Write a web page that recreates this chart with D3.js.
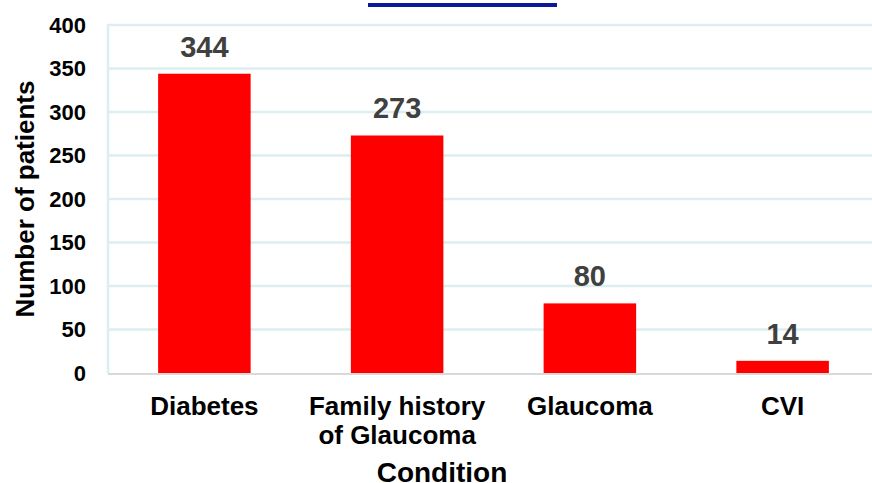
<!DOCTYPE html>
<html lang="en">
<head>
  <meta charset="UTF-8">
  <title>Condition</title>
  <script src="https://d3js.org/d3.v7.min.js"></script>
  <style>
    body { margin: 0; background: #fff; }
    text { font-family: "Liberation Sans", Arial, sans-serif; font-weight: bold; }
  </style>
</head>
<body>
<script>
  // Data
  const categories = [["Diabetes"], ["Family history", "of Glaucoma"], ["Glaucoma"], ["CVI"]];
  const patients = [344, 273, 80, 14];
  const yTicks = [0, 50, 100, 150, 200, 250, 300, 350, 400];

  const W = 872, H = 483;
  const plot = { left: 108, right: 879, top: 25, bottom: 373 };

  const svg = d3.select("body").append("svg")
      .attr("width", W)
      .attr("height", H);

  const x = d3.scaleBand()
      .domain(d3.range(categories.length))
      .range([plot.left, plot.right])
      .paddingInner(0.52)
      .paddingOuter(0.26);

  const y = d3.scaleLinear()
      .domain([0, 400])
      .range([plot.bottom, plot.top]);

  // gridlines
  svg.append("g").selectAll("line")
    .data(yTicks.filter(d => d > 0))
    .join("line")
      .attr("x1", plot.left).attr("x2", W)
      .attr("y1", d => y(d)).attr("y2", d => y(d))
      .attr("stroke", "#ddeef0")
      .attr("stroke-width", 2.5);

  svg.append("line")
      .attr("x1", plot.left).attr("x2", plot.left)
      .attr("y1", plot.top - 1).attr("y2", plot.bottom)
      .attr("stroke", "#ddeef0")
      .attr("stroke-width", 2.5);

  // y tick labels
  svg.append("g").selectAll("text")
    .data(yTicks)
    .join("text")
      .attr("x", 86)
      .attr("y", d => y(d))
      .attr("dy", "0.36em")
      .attr("text-anchor", "end")
      .attr("font-size", 22)
      .attr("fill", "#000")
      .text(d => d);

  // bars
  svg.append("g").selectAll("rect")
    .data(patients)
    .join("rect")
      .attr("x", (d, i) => x(i))
      .attr("width", x.bandwidth())
      .attr("y", d => y(d))
      .attr("height", d => y(0) - y(d))
      .attr("fill", "#ff0000");

  // baseline
  svg.append("line")
      .attr("x1", plot.left).attr("x2", W)
      .attr("y1", plot.bottom + 1).attr("y2", plot.bottom + 1)
      .attr("stroke", "#d9d9d9")
      .attr("stroke-width", 2);

  // value labels
  svg.append("g").selectAll("text")
    .data(patients)
    .join("text")
      .attr("x", (d, i) => x(i) + x.bandwidth() / 2)
      .attr("y", d => y(d) - 17)
      .attr("text-anchor", "middle")
      .attr("font-size", 29)
      .attr("fill", "#404040")
      .text(d => d);

  // category labels
  const cat = svg.append("g").selectAll("text")
    .data(categories)
    .join("text")
      .attr("x", (d, i) => x(i) + x.bandwidth() / 2)
      .attr("y", 415)
      .attr("text-anchor", "middle")
      .attr("font-size", 26)
      .attr("fill", "#000");
  cat.selectAll("tspan")
    .data(d => d)
    .join("tspan")
      .attr("x", function () { return d3.select(this.parentNode).attr("x"); })
      .attr("dy", (d, i) => i ? 29 : 0)
      .text(d => d);

  // axis titles
  svg.append("text")
      .attr("x", 442)
      .attr("y", 482)
      .attr("text-anchor", "middle")
      .attr("font-size", 28)
      .attr("fill", "#000")
      .text("Condition");

  svg.append("text")
      .attr("transform", `translate(34, ${(plot.top + plot.bottom) / 2}) rotate(-90)`)
      .attr("text-anchor", "middle")
      .attr("font-size", 26)
      .attr("fill", "#000")
      .text("Number of patients");

  // top decorative line
  svg.append("rect")
      .attr("x", 368).attr("y", 3)
      .attr("width", 189).attr("height", 4)
      .attr("fill", "#0a1a99");
</script>
</body>
</html>
